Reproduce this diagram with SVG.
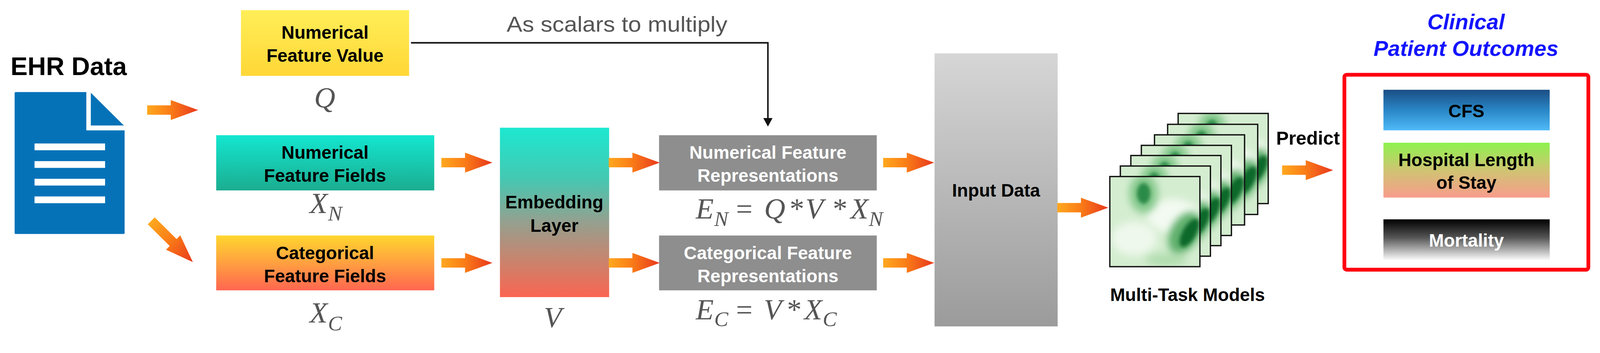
<svg xmlns="http://www.w3.org/2000/svg" xmlns:xlink="http://www.w3.org/1999/xlink" width="4263" height="903" viewBox="0 0 4263 903" preserveAspectRatio="xMinYMin meet" style="width:100%;max-width:4263px">
<style>
.lbl{font-family:"Liberation Sans",Arial,Helvetica,sans-serif;font-weight:bold;font-size:48px;text-anchor:middle;fill:#000}
.lblw{fill:#fff}
.math{font-family:"Liberation Serif","Times New Roman",serif;font-style:italic;font-size:78px;fill:#555}
.up{font-style:normal}
.sub{font-size:56px}
.note{font-family:"Liberation Sans",Arial,Helvetica,sans-serif;font-size:58px;fill:#555}
.title{font-family:"Liberation Sans",Arial,Helvetica,sans-serif;font-weight:bold;font-style:italic;font-size:58px;fill:#1414FF;text-anchor:middle}
.blk{fill:url(#gArrow)}
</style>
<defs>
<linearGradient id="gArrow" x1="0" y1="0" x2="1" y2="0">
<stop offset="0" stop-color="#FFA81E"/><stop offset="0.45" stop-color="#FA7D17"/><stop offset="1" stop-color="#E8381D"/>
</linearGradient>
<linearGradient id="gYellow" x1="0" y1="0" x2="0" y2="1"><stop offset="0" stop-color="#FFEE58"/><stop offset="1" stop-color="#FFD736"/></linearGradient>
<linearGradient id="gTeal" x1="0" y1="0" x2="0" y2="1"><stop offset="0" stop-color="#14E6D0"/><stop offset="1" stop-color="#1BAD90"/></linearGradient>
<linearGradient id="gOrange" x1="0" y1="0" x2="0" y2="1"><stop offset="0" stop-color="#FFD62E"/><stop offset="0.5" stop-color="#FFA040"/><stop offset="1" stop-color="#FF6650"/></linearGradient>
<linearGradient id="gEmb" x1="0" y1="0" x2="0" y2="1"><stop offset="0" stop-color="#1DE8D0"/><stop offset="0.3" stop-color="#44C8B2"/><stop offset="0.55" stop-color="#93A190"/><stop offset="0.78" stop-color="#C8846E"/><stop offset="1" stop-color="#FA6551"/></linearGradient>
<linearGradient id="gInput" x1="0" y1="0" x2="0" y2="1"><stop offset="0" stop-color="#D6D6D6"/><stop offset="1" stop-color="#9B9B9B"/></linearGradient>
<linearGradient id="gCFS" x1="0" y1="0" x2="0" y2="1"><stop offset="0" stop-color="#1A4E84"/><stop offset="0.5" stop-color="#2A86C6"/><stop offset="1" stop-color="#4FBAF8"/></linearGradient>
<linearGradient id="gHosp" x1="0" y1="0" x2="0" y2="1"><stop offset="0" stop-color="#8EF24E"/><stop offset="0.5" stop-color="#CFC472"/><stop offset="1" stop-color="#F89C8C"/></linearGradient>
<linearGradient id="gMort" x1="0" y1="0" x2="0" y2="1"><stop offset="0" stop-color="#000"/><stop offset="0.45" stop-color="#555"/><stop offset="1" stop-color="#FAFAFA"/></linearGradient>
<filter id="b5" x="-60%" y="-60%" width="220%" height="220%"><feGaussianBlur stdDeviation="5"/></filter>
<filter id="b10" x="-60%" y="-60%" width="220%" height="220%"><feGaussianBlur stdDeviation="10"/></filter>
<clipPath id="cardClip"><rect x="0" y="0" width="240" height="240"/></clipPath>
<g id="card">
<rect x="0" y="0" width="240" height="240" fill="#D4EDD0"/>
<g clip-path="url(#cardClip)">
<ellipse cx="170" cy="105" rx="70" ry="45" fill="#F3FAF1" filter="url(#b10)"/>
<ellipse cx="65" cy="165" rx="60" ry="45" fill="#EEF8EC" filter="url(#b10)"/>
<ellipse cx="150" cy="222" rx="55" ry="18" fill="#B2DEB0" filter="url(#b10)"/>
<ellipse cx="90" cy="45" rx="38" ry="52" fill="#86C98D" filter="url(#b10)"/>
<ellipse cx="90" cy="45" rx="18" ry="28" fill="#2C8A46" filter="url(#b5)"/>
<ellipse cx="200" cy="150" rx="38" ry="60" transform="rotate(30 200 150)" fill="#5EAF6C" filter="url(#b10)"/>
<ellipse cx="212" cy="150" rx="18" ry="42" transform="rotate(30 212 150)" fill="#0E692B" filter="url(#b5)"/>
</g>
<rect x="0" y="0" width="240" height="240" fill="none" stroke="#111" stroke-width="3.5"/>
</g>
<path id="arr" d="M0,-12.5 H63 V-26.5 L136,0 L63,26.5 V12.5 H0 Z"/>
<marker id="tipBlack" markerUnits="userSpaceOnUse" markerWidth="24" markerHeight="26" refX="6" refY="12.5" orient="auto">
<path d="M0,0 L23,12.5 L0,25 Z" fill="#111"/>
</marker>
</defs>

<rect x="0" y="0" width="4263" height="903" fill="#fff"/>

<g id="ehr">
<text x="28" y="200" style="font-family:'Liberation Sans',Arial,sans-serif;font-weight:bold;font-size:68px;fill:#000">EHR Data</text>
<path d="M39,248 Q39,245 42,245 H230 V347 H332 V620 Q332,623 329,623 H42 Q39,623 39,620 Z" fill="#0572B8"/>
<path d="M242,247 L330,334 H242 Z" fill="#0572B8"/>
<rect x="92" y="382" width="188" height="18" fill="#fff"/>
<rect x="92" y="429" width="188" height="18" fill="#fff"/>
<rect x="92" y="476" width="188" height="18" fill="#fff"/>
<rect x="92" y="523" width="188" height="18" fill="#fff"/>
</g>

<g id="numValue">
<rect x="642" y="27" width="448" height="175" fill="url(#gYellow)"/>
<text class="lbl" x="866" y="103">Numerical</text>
<text class="lbl" x="866" y="164">Feature Value</text>
<text class="math" x="837" y="286">Q</text>
</g>

<g id="numFields">
<rect x="576" y="360" width="581" height="147" fill="url(#gTeal)"/>
<text class="lbl" x="866" y="423">Numerical</text>
<text class="lbl" x="866" y="484">Feature Fields</text>
<text class="math" x="825" y="567">X<tspan class="sub" x="874" y="587">N</tspan></text>
</g>

<g id="catFields">
<rect x="576" y="627" width="581" height="146" fill="url(#gOrange)"/>
<text class="lbl" x="866" y="690">Categorical</text>
<text class="lbl" x="866" y="751">Feature Fields</text>
<text class="math" x="825" y="859">X<tspan class="sub" x="874" y="879">C</tspan></text>
</g>

<g id="embedding">
<rect x="1332" y="340" width="291" height="451" fill="url(#gEmb)"/>
<text class="lbl" x="1477" y="555">Embedding</text>
<text class="lbl" x="1477" y="617">Layer</text>
<text class="math" x="1449" y="871">V</text>
</g>

<g id="numRep">
<rect x="1756" y="360" width="580" height="147" fill="#8E8E8E"/>
<text class="lbl lblw" x="2046" y="423">Numerical Feature</text>
<text class="lbl lblw" x="2046" y="484">Representations</text>
<text class="math" y="582"><tspan x="1854">E</tspan><tspan class="sub" x="1903" y="602">N</tspan><tspan class="up" x="1961" y="582">=</tspan><tspan x="2036">Q</tspan><tspan class="up" x="2104">*</tspan><tspan x="2146">V</tspan><tspan class="up" x="2219">*</tspan><tspan x="2266">X</tspan><tspan class="sub" x="2315" y="602">N</tspan></text>
</g>

<g id="catRep">
<rect x="1756" y="627" width="580" height="146" fill="#8E8E8E"/>
<text class="lbl lblw" x="2046" y="690">Categorical Feature</text>
<text class="lbl lblw" x="2046" y="751">Representations</text>
<text class="math" y="850"><tspan x="1854">E</tspan><tspan class="sub" x="1903" y="868">C</tspan><tspan class="up" x="1961" y="850">=</tspan><tspan x="2035">V</tspan><tspan class="up" x="2097">*</tspan><tspan x="2143">X</tspan><tspan class="sub" x="2192" y="868">C</tspan></text>
</g>

<g id="inputData">
<rect x="2490" y="142" width="328" height="727" fill="url(#gInput)"/>
<text class="lbl" x="2654" y="524">Input Data</text>
</g>

<g id="multiTask">
<use href="#card" x="3139" y="302"/>
<use href="#card" x="3111" y="331"/>
<use href="#card" x="3076" y="359"/>
<use href="#card" x="3041" y="387"/>
<use href="#card" x="3013" y="414"/>
<use href="#card" x="2985" y="442"/>
<use href="#card" x="2957" y="470"/>
<text class="lbl" x="3164" y="801">Multi-Task Models</text>
</g>

<g id="predictLabel">
<text class="lbl" x="3485" y="385" style="font-size:50px">Predict</text>
</g>

<g id="outcomes">
<text class="title" x="3906" y="78">Clinical</text>
<text class="title" x="3906" y="149">Patient Outcomes</text>
<rect x="3582" y="199" width="650" height="519" rx="6" fill="none" stroke="#FF0010" stroke-width="10"/>
<rect x="3686" y="239" width="443" height="108" fill="url(#gCFS)"/>
<text class="lbl" x="3907" y="312">CFS</text>
<rect x="3686" y="380" width="443" height="146" fill="url(#gHosp)"/>
<text class="lbl" x="3907" y="442">Hospital Length</text>
<text class="lbl" x="3907" y="503">of Stay</text>
<rect x="3686" y="584" width="443" height="108" fill="url(#gMort)"/>
<text class="lbl lblw" x="3907" y="657">Mortality</text>
</g>

<g id="connectors">
<polyline points="1095,114 2046,114 2046,320" fill="none" stroke="#111" stroke-width="4" marker-end="url(#tipBlack)"/>
<text class="note" x="1350" y="84" textLength="588" lengthAdjust="spacingAndGlyphs">As scalars to multiply</text>
<use href="#arr" class="blk" transform="translate(392,293)"/>
<path class="blk" transform="translate(403,588) rotate(44.7)" d="M0,-13 H82 V-27 L156,0 L82,27 V13 H0 Z"/>
<use href="#arr" class="blk" transform="translate(1176,433)"/>
<use href="#arr" class="blk" transform="translate(1176,700)"/>
<use href="#arr" class="blk" transform="translate(1622,433)"/>
<use href="#arr" class="blk" transform="translate(1622,700)"/>
<use href="#arr" class="blk" transform="translate(2353,433)"/>
<use href="#arr" class="blk" transform="translate(2353,700)"/>
<use href="#arr" class="blk" transform="translate(2817,553)"/>
<use href="#arr" class="blk" transform="translate(3416,453)"/>
</g>
</svg>
